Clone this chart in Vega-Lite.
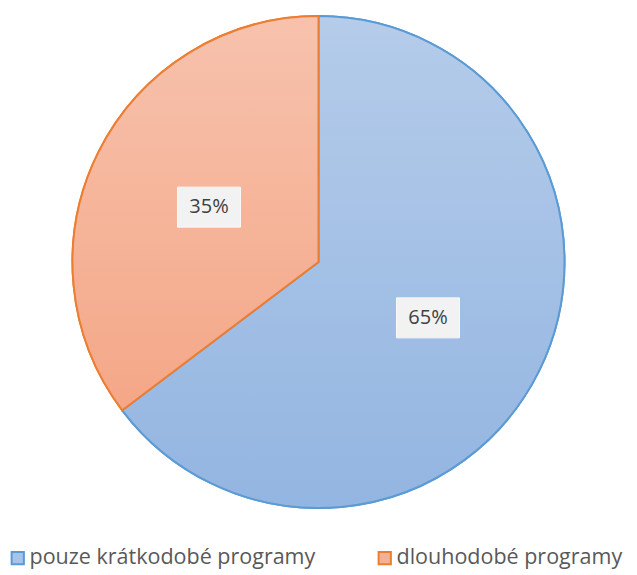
{
  "$schema": "https://vega.github.io/schema/vega-lite/v6.json",
  "width": 637,
  "height": 524,
  "autosize": "none",
  "padding": {"left": 0, "top": 0, "right": 0, "bottom": 51},
  "background": "white",
  "config": {"view": {"stroke": null}, "font": "Open Sans"},
  "data": {
    "values": [
      {"cat": "pouze krátkodobé programy", "value": 64.7, "label": "65%", "ord": 1, "lx": 0.445, "ly": -0.227},
      {"cat": "dlouhodobé programy", "value": 35.3, "label": "35%", "ord": 2, "lx": -0.445, "ly": 0.223}
    ]
  },
  "layer": [
    {
      "mark": {"type": "arc", "outerRadius": 246, "strokeWidth": 2},
      "encoding": {
        "theta": {"field": "value", "type": "quantitative", "stack": true},
        "order": {"field": "ord", "type": "quantitative"},
        "fill": {
          "field": "cat", "type": "nominal",
          "scale": {"domain": ["pouze krátkodobé programy", "dlouhodobé programy"], "range": ["#a7c3e7", "#f5b196"]},
          "legend": {
            "orient": "none", "legendX": 7, "legendY": 547, "direction": "horizontal", "title": null,
            "symbolType": "square", "symbolSize": 150, "symbolStrokeWidth": 2,
            "labelFont": "Open Sans", "labelFontSize": 21.5, "labelColor": "#595959", "labelOffset": 1,
            "columnPadding": 58, "labelLimit": 400, "symbolOpacity": 1
          }
        },
        "stroke": {
          "field": "cat", "type": "nominal",
          "scale": {"domain": ["pouze krátkodobé programy", "dlouhodobé programy"], "range": ["#5b9bd5", "#ed7d31"]},
          "legend": null
        }
      }
    },
    {
      "mark": {"type": "arc", "outerRadius": 246, "strokeWidth": 2},
      "encoding": {
        "theta": {"field": "value", "type": "quantitative", "stack": true},
        "order": {"field": "ord", "type": "quantitative"},
        "fill": {
          "condition": {
            "test": "datum.cat === 'dlouhodobé programy'",
            "value": {"gradient": "linear", "x1": 0, "y1": 0, "x2": 0, "y2": 1, "stops": [{"offset": 0, "color": "#f7c2ad"}, {"offset": 1, "color": "#f4a787"}]}
          },
          "value": {"gradient": "linear", "x1": 0, "y1": 0, "x2": 0, "y2": 1, "stops": [{"offset": 0, "color": "#b5ccea"}, {"offset": 1, "color": "#93b5e1"}]}
        },
        "stroke": {
          "field": "cat", "type": "nominal",
          "scale": {"domain": ["pouze krátkodobé programy", "dlouhodobé programy"], "range": ["#5b9bd5", "#ed7d31"]},
          "legend": null
        }
      }
    },
    {
      "mark": {"type": "point", "shape": "M-1.575,-1H1.575V1H-1.575Z", "size": 1600, "filled": true, "fill": "#f2f2f2", "opacity": 1, "stroke": "#f8f8f8", "strokeWidth": 1},
      "encoding": {
        "x": {"field": "lx", "type": "quantitative", "scale": {"domain": [-1.2947, 1.2947]}, "axis": null},
        "y": {"field": "ly", "type": "quantitative", "scale": {"domain": [-1.065, 1.065]}, "axis": null}
      }
    },
    {
      "mark": {"type": "text", "font": "Open Sans", "fontSize": 20, "color": "#404040", "baseline": "middle", "align": "center"},
      "encoding": {
        "x": {"field": "lx", "type": "quantitative", "scale": {"domain": [-1.2947, 1.2947]}, "axis": null},
        "y": {"field": "ly", "type": "quantitative", "scale": {"domain": [-1.065, 1.065]}, "axis": null},
        "text": {"field": "label"}
      }
    }
  ]
}
